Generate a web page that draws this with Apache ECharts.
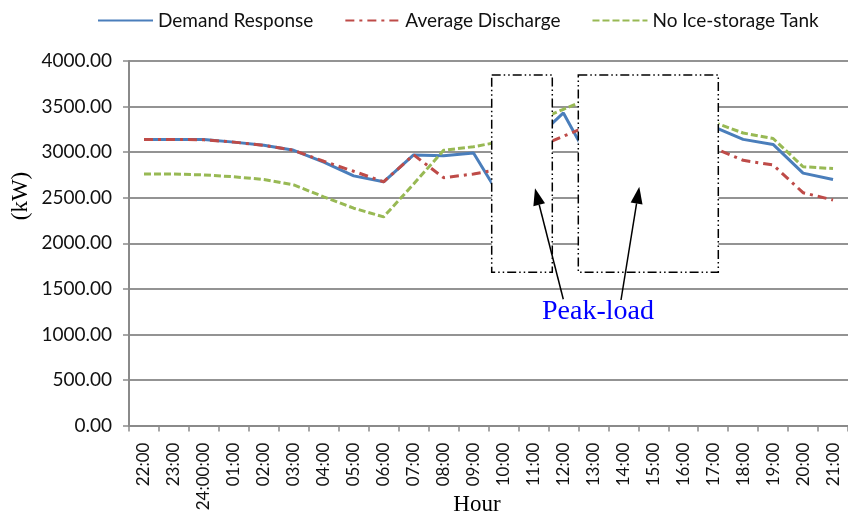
<!DOCTYPE html>
<html>
<head>
<meta charset="utf-8">
<script src="https://cdn.jsdelivr.net/npm/echarts@6/dist/echarts.min.js"></script>
<style>
  html, body { margin: 0; padding: 0; background: #fff; }
  #main { width: 848px; height: 517px; }
</style>
</head>
<body>
<div id="main"></div>
<script>
// hours along the x axis
const hours = ['22:00', '23:00', '24:00:00', '01:00', '02:00', '03:00', '04:00', '05:00',
  '06:00', '07:00', '08:00', '09:00', '10:00', '11:00', '12:00', '13:00', '14:00',
  '15:00', '16:00', '17:00', '18:00', '19:00', '20:00', '21:00'];

// load in kW (values under the white boxes are guesses)
const demandResponse = [3140, 3140, 3140, 3110, 3075, 3020, 2890, 2740, 2675, 2970, 2960, 2990,
  2450, 3120, 3430, 2830, 2950, 3100, 3200, 3280, 3140, 3085, 2770, 2700];
const averageDischarge = [3140, 3140, 3135, 3110, 3075, 3020, 2900, 2790, 2675, 2970, 2720, 2760,
  2820, 3035, 3175, 3310, 3250, 3200, 3120, 3050, 2910, 2860, 2555, 2475];
const noIceTank = [2760, 2760, 2750, 2730, 2700, 2640, 2510, 2385, 2290, 2650, 3020, 3060,
  3120, 3330, 3470, 3610, 3600, 3550, 3450, 3330, 3210, 3150, 2840, 2820];

const yTicks = [0, 500, 1000, 1500, 2000, 2500, 3000, 3500, 4000];

const chart = echarts.init(document.getElementById('main'));

// arrow = line + filled head
function arrow(x1, y1, x2, y2) {
  const a = Math.atan2(y2 - y1, x2 - x1);
  const len = 17, half = 6;
  const bx = x2 - len * Math.cos(a), by = y2 - len * Math.sin(a);
  return [
    { type: 'line', z: 110, shape: { x1: x1, y1: y1, x2: bx, y2: by },
      style: { stroke: '#000', lineWidth: 1.5 } },
    { type: 'polygon', z: 110,
      shape: { points: [[x2, y2],
        [bx - half * Math.sin(a), by + half * Math.cos(a)],
        [bx + half * Math.sin(a), by - half * Math.cos(a)]] },
      style: { fill: '#000' } }
  ];
}

const boxStyle = { fill: '#fff', stroke: '#000', lineWidth: 1.5, lineDash: [9, 3, 1.5, 3, 1.5, 3] };

chart.setOption({
  animation: false,
  backgroundColor: '#fff',
  textStyle: { fontFamily: 'Lato' },
  legend: {
    top: 6,
    left: 92,
    itemWidth: 55,
    itemHeight: 12,
    itemGap: 31,
    itemStyle: { opacity: 0 },
    textStyle: { fontFamily: 'Lato', fontSize: 19, color: '#111' },
    data: ['Demand Response', 'Average Discharge', 'No Ice-storage Tank']
  },
  grid: { left: 129, top: 61, width: 727, bottom: 91.4 },
  xAxis: {
    type: 'category',
    data: hours,
    boundaryGap: true,
    axisLine: { lineStyle: { color: '#8a8a8a', width: 2 } },
    axisTick: { show: true, length: 6, lineStyle: { color: '#8a8a8a', width: 1.5 } },
    axisLabel: { interval: 0, rotate: 90, margin: 17, fontSize: 17, color: '#111', fontFamily: 'Lato' },
    splitLine: { show: false }
  },
  yAxis: {
    type: 'value',
    min: yTicks[0],
    max: yTicks[yTicks.length - 1],
    interval: 500,
    axisLine: { show: true, lineStyle: { color: '#8a8a8a', width: 2 } },
    axisTick: { show: true, length: 6, lineStyle: { color: '#8a8a8a', width: 1.5 } },
    axisLabel: { margin: 17, fontSize: 19, color: '#111', fontFamily: 'Lato',
      formatter: v => v.toFixed(2) },
    splitLine: { lineStyle: { color: '#939393', width: 2 } }
  },
  series: [
    {
      name: 'Demand Response', type: 'line', data: demandResponse,
      symbol: 'none', color: '#4a7ebb',
      lineStyle: { color: '#4a7ebb', width: 3 }
    },
    {
      name: 'Average Discharge', type: 'line', data: averageDischarge,
      symbol: 'none', color: '#be4b48',
      lineStyle: { color: '#be4b48', width: 3, type: [9, 5, 3, 5] }
    },
    {
      name: 'No Ice-storage Tank', type: 'line', data: noIceTank,
      symbol: 'none', color: '#98b954',
      lineStyle: { color: '#98b954', width: 3, type: [7, 3] }
    }
  ],
  graphic: [
    { type: 'rect', z: 100, shape: { x: 491.7, y: 75, width: 60.6, height: 197.3 }, style: boxStyle },
    { type: 'rect', z: 100, shape: { x: 578.3, y: 75, width: 140, height: 197.3 }, style: boxStyle },
    ...arrow(563.3, 299.3, 535, 188.3),
    ...arrow(621, 300, 639.3, 186.7),
    { type: 'text', z: 110, x: 598, y: 312,
      style: { text: 'Peak-load', fill: '#0000ff', font: '28px "Liberation Serif"',
        textAlign: 'center', textVerticalAlign: 'middle' } },
    { type: 'text', z: 110, x: 477, y: 505,
      style: { text: 'Hour', fill: '#000', font: '23px "Liberation Serif"',
        textAlign: 'center', textVerticalAlign: 'middle' } },
    { type: 'text', z: 110, x: 21, y: 196, rotation: Math.PI / 2,
      style: { text: '(kW)', fill: '#000', font: '23px "Liberation Serif"',
        textAlign: 'center', textVerticalAlign: 'middle' } }
  ]
});
</script>
</body>
</html>
